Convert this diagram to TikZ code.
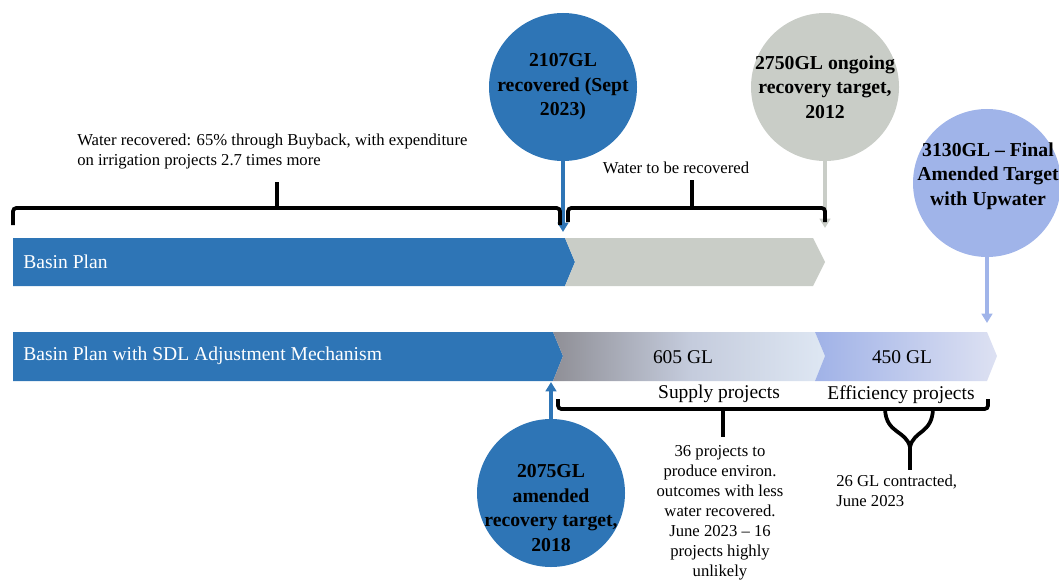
\documentclass[tikz,border=0pt]{standalone}
\usepackage{fontspec}
\setmainfont{Liberation Serif}
\usetikzlibrary{arrows.meta}
\begin{document}
\begin{tikzpicture}[x=0.75pt,y=0.75pt,yscale=-1,xscale=1,
    bubble/.style={circle,minimum size=111pt,inner sep=0pt,draw=none},
    bubtext/.style={align=center,inner sep=0pt,font=\fontsize{14.8}{18.4}\selectfont\bfseries},
    pointer/.style={line width=2.6pt,-{Triangle[width=8pt,length=7pt]}},
    brace/.style={line width=2.8pt,rounded corners=2.5pt},
    barlabel/.style={anchor=west,inner sep=0pt,text=white,font=\fontsize{14.7}{17}\selectfont},
    midlabel/.style={inner sep=0pt,font=\fontsize{14.6}{17}\selectfont},
    note/.style={inner sep=0pt,font=\fontsize{12.5}{15}\selectfont}]
\useasboundingbox (0,0) rectangle (1059,581);

% bars
\fill [color={rgb, 255:red, 46; green, 117; blue, 182 }] (13,238) -- (565,238) -- (575,262) -- (565,286) -- (13,286) -- cycle ;
\fill [color={rgb, 255:red, 201; green, 205; blue, 199 }] (565,238) -- (813,238) -- (825,262) -- (813,286) -- (565,286) -- (575,262) -- cycle ;
\fill [color={rgb, 255:red, 46; green, 117; blue, 182 }] (13,332) -- (553,332) -- (563,356) -- (553,381) -- (13,381) -- cycle ;
\shade [left color={rgb, 255:red, 143; green, 143; blue, 150 },right color={rgb, 255:red, 222; green, 231; blue, 243 },middle color={rgb, 255:red, 196; green, 203; blue, 220 }]
  (553,332) -- (815,332) -- (825,356) -- (815,381) -- (553,381) -- (563,356) -- cycle ;
\shade [left color={rgb, 255:red, 160; green, 178; blue, 231 },right color={rgb, 255:red, 221; green, 225; blue, 242 }]
  (815,332) -- (987,332) -- (997,356) -- (987,381) -- (815,381) -- (825,356) -- cycle ;

\node [barlabel] (bp) at (23,262) {Basin Plan};
\node [barlabel] (bpsdl) at (23,356) {Basin Plan with SDL Adjustment Mechanism};
\node [midlabel] (gl605) at (683,357) {605 GL};
\node [midlabel] (gl450) at (902,357) {450 GL};

% circles
\node [bubble,fill={rgb, 255:red, 46; green, 117; blue, 182 }] (c2107) at (563,87) {};
\node [bubble,fill={rgb, 255:red, 201; green, 205; blue, 199 }] (c2750) at (825,87) {};
\node [bubble,fill={rgb, 255:red, 160; green, 180; blue, 233 }] (c3130) at (987,183) {};
\node [bubble,fill={rgb, 255:red, 46; green, 117; blue, 182 }] (c2075) at (551,493) {};

\node [bubtext] (t2107) at (563,87) {2107GL\\recovered (Sept\\2023)};
\node [bubtext] (t2750) at (825,87) {2750GL ongoing\\recovery target,\\2012};
\node [bubtext] (t3130) at (988,176) {3130GL -- Final\\Amended Target\\with Upwater};
\node [bubtext] (t2075) at (551,508) {2075GL\\amended\\recovery target,\\2018};

\coordinate (p2107) at (563,232);
\coordinate (p2750) at (825,228);
\coordinate (p3130) at (987,323);
\coordinate (p2075) at (551,382);
\draw [pointer,color={rgb, 255:red, 46; green, 117; blue, 182 }] (c2107) -- (p2107) ;
\draw [pointer,color={rgb, 255:red, 201; green, 205; blue, 199 }] (c2750) -- (p2750) ;
\draw [pointer,color={rgb, 255:red, 160; green, 180; blue, 233 }] (c3130) -- (p3130) ;
\draw [pointer,color={rgb, 255:red, 46; green, 117; blue, 182 }] (c2075) -- (p2075) ;

% braces
\draw [brace] (13,225) -- (13,208) -- (560,208) -- (560,225) ;
\draw [line width=2.8pt] (277,208) -- (277,182) ;
\draw [brace] (568,222) -- (568,208) -- (825,208) -- (825,222) ;
\draw [line width=2.8pt] (692,208) -- (692,180) ;
\draw [brace] (558,399) -- (558,409) -- (988,409) -- (988,399) ;
\draw [line width=2.8pt] (723,409) -- (723,437) ;
\draw [line width=2.8pt] (885,409) .. controls (886,434) and (906,430) .. (910,447) ;
\draw [line width=2.8pt] (933,409) .. controls (932,434) and (914,430) .. (910,447) ;
\draw [line width=2.8pt] (910,446) -- (910,470) ;

% notes
\node [note,anchor=west,align=left] (nbuy) at (77,152) {Water recovered: 65\% through Buyback, with expenditure\\on irrigation projects 2.7 times more};
\node [note] (nrec) at (676,168) {Water to be recovered};
\node [midlabel] (nsup) at (719,394) {Supply projects};
\node [midlabel] (neff) at (901,395) {Efficiency projects};
\node [note,anchor=north,align=center] (n36) at (720,445) {36 projects to\\produce environ.\\outcomes with less\\water recovered.\\June 2023 -- 16\\projects highly\\unlikely};
\node [note,anchor=north west,align=left] (n26) at (836,475) {26 GL contracted,\\June 2023};
\end{tikzpicture}
\end{document}
